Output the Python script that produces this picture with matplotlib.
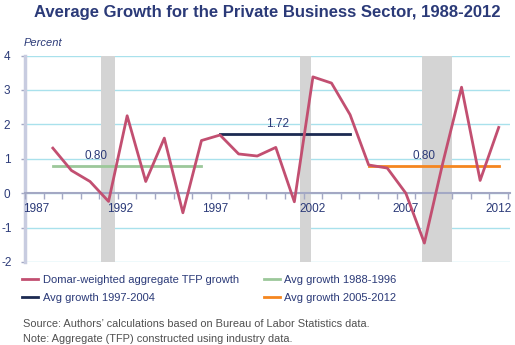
import matplotlib
matplotlib.use("Agg")
import matplotlib.pyplot as plt
from matplotlib.lines import Line2D

plt.rcParams['font.family'] = ['Liberation Sans', 'DejaVu Sans']
plt.rcParams['axes.unicode_minus'] = False

years = list(range(1988, 2013))
tfp_growth = [1.31, 0.66, 0.34, -0.24, 2.25, 0.34, 1.60, -0.57, 1.53,
              1.69, 1.14, 1.08, 1.33, -0.25, 3.38, 3.20, 2.28,
              0.82, 0.73, 0.00, -1.45, 0.90, 3.08, 0.37, 1.91]

# period averages: (start, end, value)
avg_periods = [(1988, 1996, 0.80), (1997, 2004, 1.72), (2005, 2012, 0.80)]
avg_labels = ["Avg growth 1988-1996", "Avg growth 1997-2004", "Avg growth 2005-2012"]
avg_colors = ["#9cc89a", "#1c2a52", "#f5861f"]
avg_text_x = [1990.3, 2000.1, 2008.0]

recessions = [(1990.6, 1991.35), (2001.3, 2001.87), (2007.85, 2009.5)]
year_ticks = [1987, 1992, 1997, 2002, 2007, 2012]
# small nudges for the year labels along the zero line
year_label_shift = [0.1, -0.4, -0.25, 0.0, 0.0, 0.0]

navy = "#2b3a78"
line_col = "#c24f71"

fig = plt.figure(figsize=(5.15, 3.45), dpi=100)
ax = fig.add_axes([0.0485, 0.2406, 0.9415, 0.5984])

for a, b in recessions:
    ax.axvspan(a, b, color="#d4d4d4", lw=0, zorder=1)

for v in range(-2, 5):
    ax.axhline(v, color="#a9e1ec", lw=1.0, zorder=0)

ax.plot(years, tfp_growth, color=line_col, lw=2, zorder=4)
for (s, e, v), c, tx in zip(avg_periods, avg_colors, avg_text_x):
    ax.plot([s, e], [v, v], color=c, lw=2, zorder=3)
    ax.text(tx, v + 0.12, f"{v:.2f}", color=navy, fontsize=8.5,
            ha="center", va="bottom", zorder=5)

ax.set_xlim(1986.5, 2012.6)
ax.set_ylim(-2, 4)

for s in ["top", "right"]:
    ax.spines[s].set_visible(False)
ax.spines["bottom"].set_position(("data", 0))
ax.spines["bottom"].set_color("#a3a8c4")
ax.spines["bottom"].set_linewidth(1.5)
ax.spines["left"].set_color("#c8cce0")
ax.spines["left"].set_linewidth(2.5)

ax.set_xticks([y + d for y, d in zip(year_ticks, year_label_shift)])
ax.set_xticklabels([str(y) for y in year_ticks])
ax.set_xticks([y + 0.5 for y in range(1986, 2013)], minor=True)
ax.tick_params(axis="x", which="major", length=0, pad=7, labelsize=8.5, labelcolor=navy)
ax.tick_params(axis="x", which="minor", length=4, width=1, color="#a3a8c4", direction="out")
ax.xaxis.set_zorder(3)
ax.set_yticks(range(-2, 5))
ax.tick_params(axis="y", length=3, width=1, color="#a3a8c4", pad=10, labelsize=8.5,
               labelcolor=navy)
for lab in ax.get_yticklabels():
    lab.set_horizontalalignment("center")

fig.text(0.045, 0.866, "Percent", fontsize=8, style="italic", color=navy)
fig.text(0.519, 0.963, "Average Growth for the Private Business Sector, 1988-2012",
         ha="center", va="center", fontsize=12, fontweight="bold", color=navy)

handles = [Line2D([], [], color=line_col, lw=2),
           Line2D([], [], color=avg_colors[1], lw=2),
           Line2D([], [], color=avg_colors[0], lw=2),
           Line2D([], [], color=avg_colors[2], lw=2)]
labels = ["Domar-weighted aggregate TFP growth", avg_labels[1], avg_labels[0], avg_labels[2]]
leg = fig.legend(handles, labels, loc="upper left", bbox_to_anchor=(0.043, 0.203), ncol=2,
                 frameon=False, fontsize=8, handlelength=1.45, handletextpad=0.4,
                 columnspacing=2.25, labelspacing=0.72, borderaxespad=0, borderpad=0)
for t in leg.get_texts():
    t.set_color(navy)

fig.text(0.045, 0.052, "Source: Authors\u2019 calculations based on Bureau of Labor Statistics data.",
         fontsize=7.9, color="#505050")
fig.text(0.045, 0.008, "Note: Aggregate (TFP) constructed using industry data.",
         fontsize=7.9, color="#505050")

fig.savefig("out.png", dpi=100)
